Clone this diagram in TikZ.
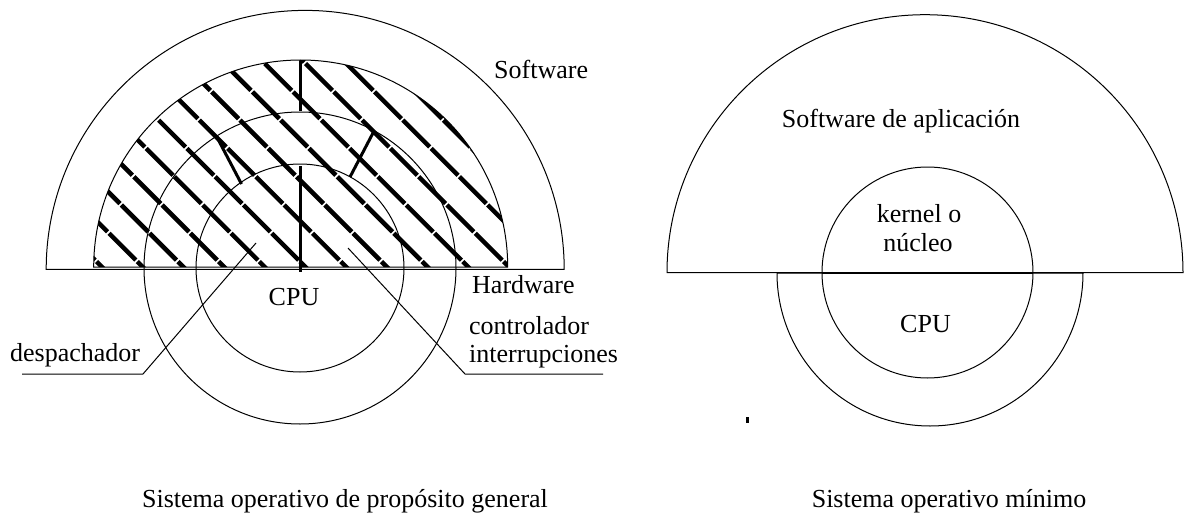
\documentclass[tikz,border=0pt]{standalone}
\usepackage{fontspec}
\setmainfont{Liberation Serif}
\usetikzlibrary{positioning}

\tikzset{
  thinline/.style={line width=1pt},
  hatchline/.style={line width=4.5pt, dash pattern=on 38pt off 2pt},
  boldline/.style={line width=3pt},
  txt/.style={font=\fontsize{26}{30}\selectfont, inner sep=0pt},
}

\begin{document}
\begin{tikzpicture}[x=1pt, y=-1pt]
		\def\HatchR{207} % radio del semicirculo rayado
		\def\MidR{156} % circulo intermedio
		\def\InR{104} % circulo interior
		\def\Step{40.7} % paso del rayado
		\useasboundingbox (0,0) rectangle (1184,519);
		
		% --- Sistema operativo de proposito general (izquierda) ---
		\coordinate (ctrL) at (300,268);
		
		% Rayado grueso
		\begin{scope}
			\clip (93.7,267) arc[start angle=180, end angle=0, radius=\HatchR pt] -- cycle;
			\foreach \k in {-3,...,11}
				\draw[hatchline] ({509-\Step*\k-260}, 7) -- ++(290,290);
		\end{scope}
		\draw[thinline] (93.7,267) arc[start angle=180, end angle=0, radius=\HatchR pt] -- cycle;
		
		% Semicirculo exterior (Software)
		\draw[thinline] (46.2,269.4) arc[start angle=180, end angle=0, radius=259pt] -- cycle;
		
		% Circulos (Hardware / CPU)
		\draw[thinline] (ctrL) circle[radius=\MidR pt];
		\draw[thinline] (ctrL) circle[radius=\InR pt];
		
		% Lineas gruesas entre capas
		\draw[boldline] (300,61) -- (300,111);
		\draw[boldline] (300,166) -- (300,272);
		\draw[boldline] (216.7,136.7) -- (241.5,184);
		\draw[boldline] (373,133) -- (350,177);
		
		% Textos
		\node[txt, anchor=base west] (swL) at (494,78) {Software};
		\node[txt, anchor=base] (cpuL) at (294,305) {CPU};
		\node[txt, anchor=base west] (hwL) at (472,293) {Hardware};
		\node[txt, anchor=base west] (ctrl) at (469,334) {controlador};
		\node[txt, anchor=base west] (intr) at (469,362) {interrupciones};
		\node[txt, anchor=base west] (desp) at (10,361) {despachador};
		
		% Lineas de referencia
		\coordinate (desp-a) at (22,374);
		\coordinate (desp-b) at (143,374);
		\coordinate (desp-c) at (256,243);
		\draw[thinline] (desp-a) -- (desp-b) -- (desp-c);
		\coordinate (intr-a) at (603,374);
		\coordinate (intr-b) at (465,374);
		\coordinate (intr-c) at (348,248);
		\draw[thinline] (intr-a) -- (intr-b) -- (intr-c);
		
		\node[txt, anchor=base] (capL) at (345,507) {Sistema operativo de propósito general};
		
		% --- Sistema operativo minimo (derecha) ---
		\coordinate (ctrR) at (927.5,272.5);
		\draw[thinline] (667,272.7) arc[start angle=180, end angle=0, radius=258pt] -- cycle;
		\draw[thinline] (777,273) arc[start angle=180, end angle=360, radius=153pt] -- cycle;
		\draw[thinline] (ctrR) circle[radius=105.5pt];
		\draw[line width=1.8pt] (822,272.7) -- (1033,272.7);
		\fill (746,417) rectangle (749,423);
		
		\node[txt, anchor=base] (swR) at (901,128) {Software de aplicación};
		\node[txt, anchor=base] (kerA) at (919,222) {kernel o};
		\node[txt, anchor=base] (kerB) at (918,251) {núcleo};
		\node[txt, anchor=base] (cpuR) at (925.5,332) {CPU};
		\node[txt, anchor=base] (capR) at (949,507) {Sistema operativo mínimo};
		
	\end{tikzpicture}
\end{document}
